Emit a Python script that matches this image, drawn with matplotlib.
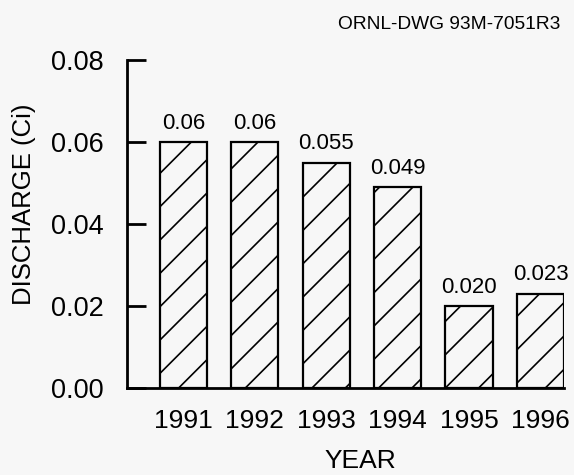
import matplotlib
matplotlib.use("Agg")
import matplotlib.pyplot as plt

# ── data ──────────────────────────────────────────────────────────────────────
years = ["1991", "1992", "1993", "1994", "1995", "1996"]
discharge = [0.060, 0.060, 0.055, 0.049, 0.020, 0.023]
value_labels = ["0.06", "0.06", "0.055", "0.049", "0.020", "0.023"]
yticks = [0.00, 0.02, 0.04, 0.06, 0.08]
ytick_labels = ["0.00", "0.02", "0.04", "0.06", "0.08"]

BG = "#f7f7f7"
plt.rcParams["font.family"] = ["Liberation Sans", "DejaVu Sans"]
plt.rcParams["hatch.linewidth"] = 1.2

fig = plt.figure(figsize=(5.74, 4.75), dpi=100, facecolor=BG)
ax = fig.add_axes([0.2213, 0.183, 0.7613, 0.6905])
ax.set_facecolor(BG)

x = list(range(len(years)))
ax.bar(x, discharge, width=0.66, facecolor=BG, edgecolor="black",
       linewidth=1.6, hatch="/", zorder=2)

for xi, v, lab in zip(x, discharge, value_labels):
    ax.annotate(lab, (xi, v), xytext=(0, 6), textcoords="offset points",
                ha="center", va="bottom", fontsize=16)

ax.set_xlim(-0.79, 5.33)
ax.set_ylim(0, 0.08)
ax.set_yticks(yticks)
ax.set_yticklabels(ytick_labels)
ax.set_xticks(x)
ax.set_xticklabels(years)

ax.tick_params(axis="y", direction="in", length=14, width=2, pad=17,
               labelsize=19.5)
ax.tick_params(axis="x", length=0, pad=15, labelsize=19)

for side in ("top", "right"):
    ax.spines[side].set_visible(False)
for side in ("left", "bottom"):
    ax.spines[side].set_linewidth(2)

ax.set_ylabel("DISCHARGE (Ci)", fontsize=18.5)
ax.yaxis.set_label_coords(-0.208, 0.561)
ax.set_xlabel("YEAR", fontsize=19)
ax.xaxis.set_label_coords(0.535, -0.185)

fig.text(0.976, 0.948, "ORNL-DWG 93M-7051R3", ha="right", va="center",
         fontsize=13.8)

fig.savefig("out.png", dpi=100, facecolor=BG)
